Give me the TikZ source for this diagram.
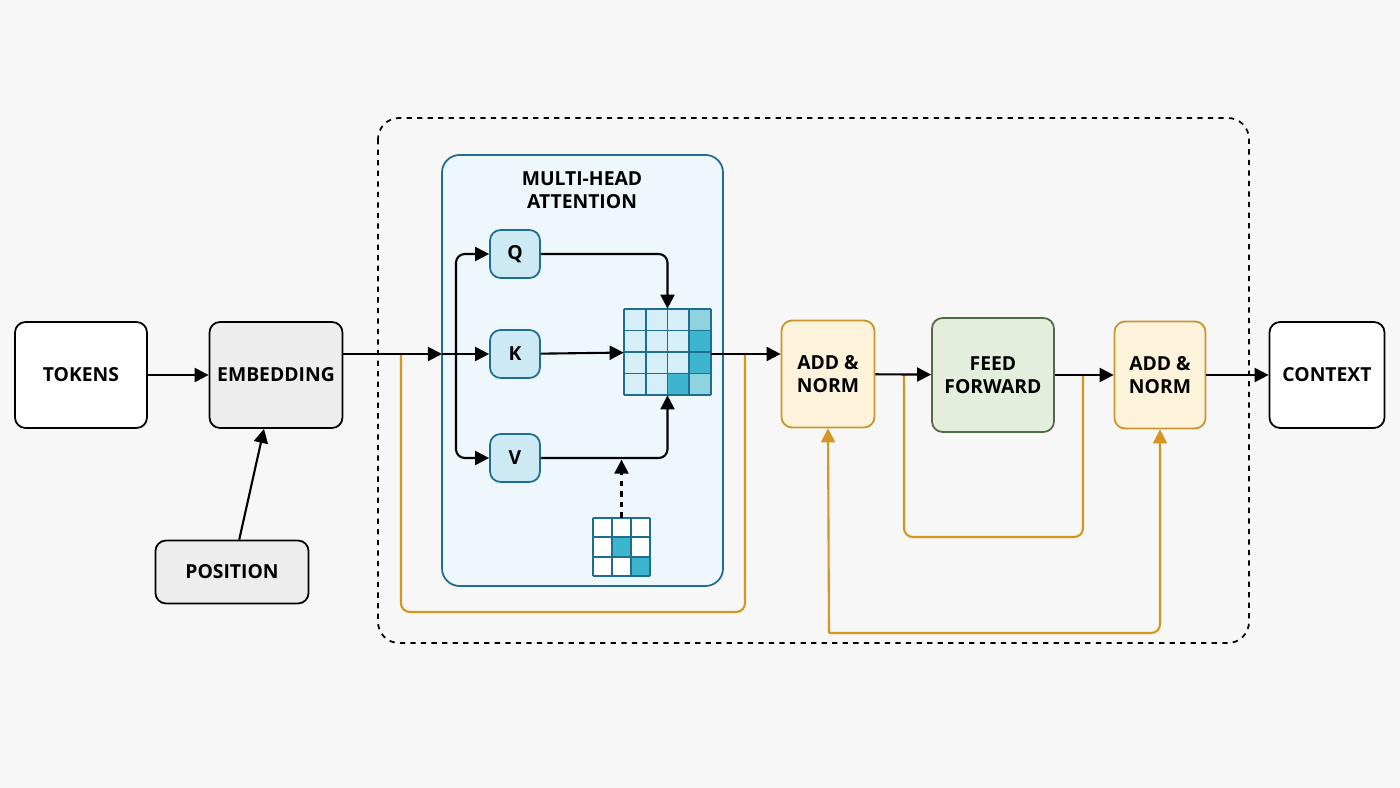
\documentclass[tikz,border=0pt]{standalone}
\usepackage{fontspec}
\setmainfont{Open Sans}
\usetikzlibrary{arrows.meta}
\definecolor{bgcol}{HTML}{F7F7F7}
\definecolor{mhafill}{HTML}{EEF7FB}
\definecolor{mhaline}{HTML}{1F6E8F}
\definecolor{qkvfill}{HTML}{CDE9F4}
\definecolor{cellA}{HTML}{D6EEF7}
\definecolor{cellB}{HTML}{3DB5CF}
\definecolor{cellC}{HTML}{8FD3E0}
\definecolor{addfill}{HTML}{FCF3DA}
\definecolor{addline}{HTML}{C9962E}
\definecolor{fffill}{HTML}{E3EFDC}
\definecolor{ffline}{HTML}{4E6B45}
\definecolor{embfill}{HTML}{EDEDED}
\definecolor{resid}{HTML}{D4961E}
\tikzset{
	blk/.style={draw=black, line width=1pt, rounded corners=6pt, fill=white, align=center,
		font=\fontsize{11}{13}\selectfont\bfseries},
	qkv/.style={blk, draw=mhaline, fill=qkvfill, minimum width=10mm, minimum height=9.6mm},
	addn/.style={blk, draw=addline, fill=addfill, minimum height=21.4mm},
	flow/.style={line width=1.2pt, -{Triangle[length=8pt,width=8pt]}, rounded corners=5pt},
	res/.style={line width=1.2pt, draw=resid, rounded corners=5pt},
	cellgrid/.style={draw=mhaline, line width=1pt}
}
\begin{document}
\begin{tikzpicture}[x=0.2mm, y=-0.2mm]
	% Hintergrund
	\fill[bgcol] (0,0) rectangle (1400,788);
	% Encoder-Block
	\draw[dashed, line width=1pt, rounded corners=12pt] (378,118) rectangle (1249,643);
	\draw[mhaline, fill=mhafill, line width=1pt, rounded corners=10pt] (442,155) rectangle (723,586);
	\node[font=\fontsize{11}{13}\selectfont\bfseries, align=center] (mhatitle) at (582,190) {MULTI-HEAD\\ATTENTION};

	% Bloecke
	\node[blk, minimum width=26.4mm, minimum height=21.2mm] (tokens) at (81,375) {TOKENS};
	\node[blk, fill=embfill, minimum width=26.6mm, minimum height=21.2mm] (embed) at (276,375) {EMBEDDING};
	\node[blk, fill=embfill, minimum width=30.6mm, minimum height=12.6mm] (pos) at (232,572) {POSITION};
	\node[qkv] (q) at (515,254) {Q};
	\node[qkv] (k) at (515,354) {K};
	\node[qkv] (v) at (515,458) {V};
	\node[addn, minimum width=18.6mm] (add1) at (828,374) {ADD \&\\NORM};
	\node[blk, draw=ffline, fill=fffill, minimum width=24.4mm, minimum height=22.8mm] (ff) at (993,375) {FEED\\FORWARD};
	\node[addn, minimum width=18.2mm] (add2) at (1160,375) {ADD \&\\NORM};
	\node[blk, minimum width=23mm, minimum height=21.2mm] (context) at (1327,375) {CONTEXT};

	% Attention-Matrix
	\node[minimum width=17.4mm, minimum height=17.2mm, inner sep=0pt] (attn) at (667.5,352) {};
	\fill[cellA] (624,309) rectangle (711,395);
	\fill[cellC] (689,309) rectangle (711,330) (689,373) rectangle (711,395);
	\fill[cellB] (689,330) rectangle (711,373) (667,373) rectangle (689,395);
	\foreach \t in {0,...,4} {
		\draw[cellgrid] (624+\t*21.75,309) -- (624+\t*21.75,395);
		\draw[cellgrid] (624,309+\t*21.5) -- (711,309+\t*21.5);
	}
	% Maske
	\node[minimum width=11.4mm, minimum height=11.6mm, inner sep=0pt] (mask) at (621.5,547) {};
	\fill[white] (593,518) rectangle (650,576);
	\fill[cellB] (612,537) rectangle (631,557) (631,557) rectangle (650,576);
	\foreach \t in {0,...,3} {
		\draw[cellgrid] (593+\t*19,518) -- (593+\t*19,576);
		\draw[cellgrid] (593,518+\t*19.33) -- (650,518+\t*19.33);
	}

	% Residualverbindungen
	\draw[res] (401,354) -- (401,612) -- (745,612) -- (745,354);
	\draw[res] (904,375) -- (904,537) -- (1083,537) -- (1083,375);
	\draw[res, -{Triangle[length=8pt,width=8pt]}] (829,633) -- (add1.south);
	\draw[res, -{Triangle[length=8pt,width=8pt]}] (829,633) -| (add2.south);

	% Datenfluss
	\coordinate (mhain) at (442,354);
	\coordinate (split) at (456,354);
	\draw[flow] (tokens) -- (embed);
	\draw[flow] (pos) -- (embed);
	\draw[flow] (embed.east |- mhain) -- (mhain);
	\draw[flow] (mhain) -- (k);
	\draw[flow] (split) |- (q);
	\draw[flow] (split) |- (v);
	\draw[flow] (k) -- (attn);
	\draw[flow] (q) -| (attn.north);
	\draw[flow] (v) -| (attn.south);
	\draw[flow, dashed] (mask.north) -- ++(0,-58);
	\draw[flow] (attn.east |- add1.west) ++(0,-20) -- ([yshift=20*0.2mm]add1.west);
	\draw[flow] (add1) -- (ff);
	\draw[flow] (ff) -- (add2);
	\draw[flow] (add2) -- (context);
\end{tikzpicture}
\end{document}
